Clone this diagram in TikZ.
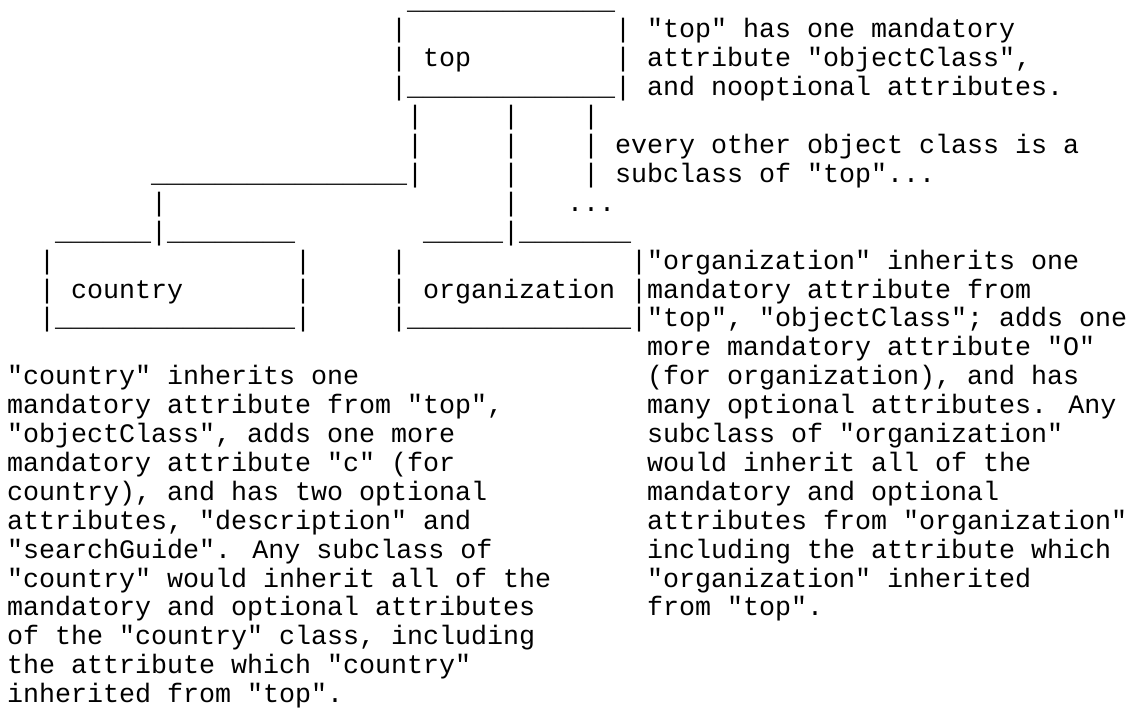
\documentclass[tikz,border=0pt]{standalone}
\usepackage{fontspec}
\newfontfamily\asciifont{Liberation Mono}
\tikzset{seg/.style={anchor=base west, inner sep=0pt, outer sep=0pt, text=black,
  font=\asciifont\fontsize{26.67pt}{28.9pt}\selectfont},
  ulseg/.style={seg, text height=1pt}}
\newcommand\seg[5][seg]{\node[#1] (#2) at ({7pt+#3*16pt},{-9pt-(#4-1)*28.9pt}) {#5};}
\begin{document}
\begin{tikzpicture}
\path[use as bounding box, fill=white] (0,0) rectangle (1146pt,-713pt);
% top box
\seg[ulseg]{r1a}{25}{1}{\detokenize{_____________}}
\seg{r2a}{24}{2}{|}
\seg{r2b}{38}{2}{|}
\seg{r2c}{40}{2}{"top" has one mandatory}
\seg{r3a}{24}{3}{|}
\seg{r3b}{26}{3}{top}
\seg{r3c}{38}{3}{|}
\seg{r3d}{40}{3}{attribute "objectClass",}
\seg{r4a}{24}{4}{\detokenize{|_____________|}}
\seg{r4b}{40}{4}{and nooptional attributes.}
% links
\seg{r5a}{25}{5}{|}
\seg{r5b}{31}{5}{|}
\seg{r5c}{36}{5}{|}
\seg{r6a}{25}{6}{|}
\seg{r6b}{31}{6}{|}
\seg{r6c}{36}{6}{|}
\seg{r6d}{38}{6}{every other object class is a}
\seg{r7a}{9}{7}{\detokenize{________________|}}
\seg{r7b}{31}{7}{|}
\seg{r7c}{36}{7}{|}
\seg{r7d}{38}{7}{subclass of "top"...}
\seg{r8a}{9}{8}{|}
\seg{r8b}{31}{8}{|}
\seg{r8c}{35}{8}{...}
\seg{r9a}{3}{9}{\detokenize{______|________}}
\seg{r9b}{26}{9}{\detokenize{_____|_______}}
% country and organization boxes
\seg{r10a}{2}{10}{|}
\seg{r10b}{18}{10}{|}
\seg{r10c}{24}{10}{|}
\seg{r10d}{39}{10}{|"organization" inherits one}
\seg{r11a}{2}{11}{|}
\seg{r11b}{4}{11}{country}
\seg{r11c}{18}{11}{|}
\seg{r11d}{24}{11}{|}
\seg{r11e}{26}{11}{organization}
\seg{r11f}{39}{11}{|mandatory attribute from}
\seg{r12a}{2}{12}{\detokenize{|_______________|}}
\seg{r12b}{24}{12}{\detokenize{|______________|"top", "objectClass"; adds one}}
\seg{r13a}{40}{13}{more mandatory attribute "O"}
% descriptions
\seg{r14a}{0}{14}{"country" inherits one}
\seg{r14b}{40}{14}{(for organization), and has}
\seg{r15a}{0}{15}{mandatory attribute from "top",}
\seg{r15b}{40}{15}{many optional attributes. Any}
\seg{r16a}{0}{16}{"objectClass", adds one more}
\seg{r16b}{40}{16}{subclass of "organization"}
\seg{r17a}{0}{17}{mandatory attribute "c" (for}
\seg{r17b}{40}{17}{would inherit all of the}
\seg{r18a}{0}{18}{country), and has two optional}
\seg{r18b}{40}{18}{mandatory and optional}
\seg{r19a}{0}{19}{attributes, "description" and}
\seg{r19b}{40}{19}{attributes from "organization"}
\seg{r20a}{0}{20}{"searchGuide". Any subclass of}
\seg{r20b}{40}{20}{including the attribute which}
\seg{r21a}{0}{21}{"country" would inherit all of the}
\seg{r21b}{40}{21}{"organization" inherited}
\seg{r22a}{0}{22}{mandatory and optional attributes}
\seg{r22b}{40}{22}{from "top".}
\seg{r23a}{0}{23}{of the "country" class, including}
\seg{r24a}{0}{24}{the attribute which "country"}
\seg{r25a}{0}{25}{inherited from "top".}
\end{tikzpicture}
\end{document}
